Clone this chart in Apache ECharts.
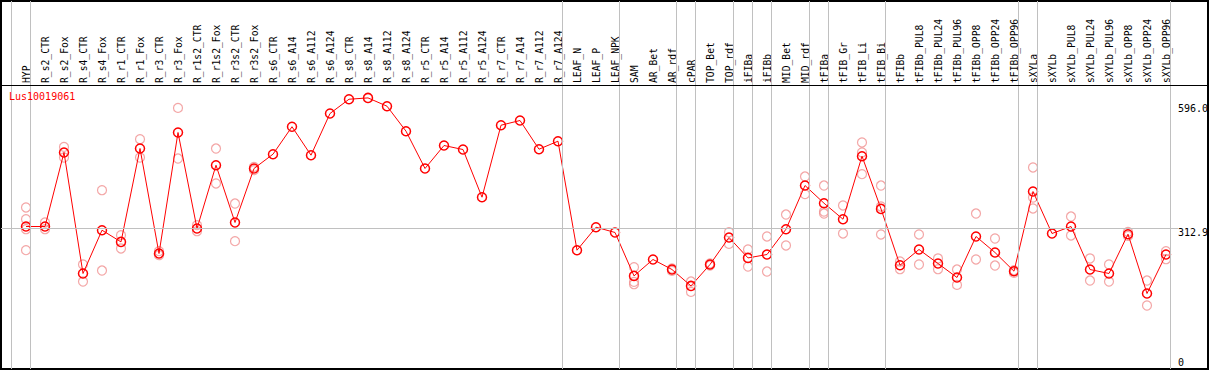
<!DOCTYPE html>
<html><head><meta charset="utf-8">
<script src="https://cdn.jsdelivr.net/npm/echarts@6/dist/echarts.min.js"></script>
<style>html,body{margin:0;padding:0;background:#fff}#c{width:1209px;height:370px}</style>
</head><body><div id="c"></div>
<script>
const geneId = 'Lus10019061';
const categories = ['HYP','R_s2_CTR','R_s2_Fox','R_s4_CTR','R_s4_Fox','R_r1_CTR','R_r1_Fox','R_r3_CTR','R_r3_Fox',
  'R_r1s2_CTR','R_r1s2_Fox','R_r3s2_CTR','R_r3s2_Fox','R_s6_CTR','R_s6_A14','R_s6_A112','R_s6_A124',
  'R_s8_CTR','R_s8_A14','R_s8_A112','R_s8_A124','R_r5_CTR','R_r5_A14','R_r5_A112','R_r5_A124',
  'R_r7_CTR','R_r7_A14','R_r7_A112','R_r7_A124','LEAF_N','LEAF_P','LEAF_NPK','SAM','AR_Bet','AR_rdf',
  'cPAR','TOP_Bet','TOP_rdf','iFIBa','iFIBb','MID_Bet','MID_rdf','tFIBa','tFIB_Gr','tFIB_Li','tFIB_Bi',
  'tFIBb','tFIBb_PUL8','tFIBb_PUL24','tFIBb_PUL96','tFIBb_OPP8','tFIBb_OPP24','tFIBb_OPP96',
  'sXYLa','sXYLb','sXYLb_PUL8','sXYLb_PUL24','sXYLb_PUL96','sXYLb_OPP8','sXYLb_OPP24','sXYLb_OPP96'];
const means = [317.5,317.5,487.2,209.8,309.0,282.2,496.3,255.6,533.0,312.9,458.0,326.7,450.5,483.3,546.3,
  481.0,576.6,609.3,612.3,593.3,536.0,450.5,503.2,494.0,384.7,549.7,560.5,494.7,513.1,263.2,315.9,303.8,
  204.3,241.9,218.9,181.3,230.4,292.3,245.5,253.3,311.3,411.5,370.9,334.2,478.7,357.9,228.8,264.8,232.7,
  200.6,294.6,257.9,215.0,397.7,301.5,317.5,218.9,209.8,299.9,163.9,253.3];
const replicates = [
  [361.1,334.2,311.3,263.2],[326.7,311.3],[500.0,475.7],[230.4,191.4],[400.7,216.6],[297.6,267.1],
  [517.6,475.7],[260.9,251.7],[589.4,473.4],[320.5,306.7],[496.3,416.1],[370.2,283.8],[454.2,446.6],
  [],[],[],[],[],[],[],[],[],[],[],[],[],[],[],[],
  [],[],[],
  [224.2,190.5,185.2],[],[221.2,215.7],[191.4,167.6],[232.7,228.1],[304.4,277.6],[264.8,225.8],
  [294.6,214.3],[345.0,274.0],[432.1,391.6],[411.5,351.9,347.3],[365.7,301.5],[510.1,487.2,437.4],
  [411.5,363.4,299.2],[237.3,219.6],[299.2,230.4],[244.2,219.6],[218.9,183.6],[347.3,241.9],
  [290.0,228.1],[217.3,211.1],[452.8,384.0,358.8],[],[340.4,296.9],[244.2,193.7],[230.4,191.4],
  [305.1,296.0],[193.7,136.4],[260.9,242.5]];
const groupEnds = ['HYP','R_r7_A124','LEAF_NPK','AR_rdf','cPAR','TOP_rdf','iFIBa','iFIBb','MID_rdf',
  'tFIBa','tFIB_Bi','tFIBb_OPP96','sXYLa','sXYLb_OPP96'];
const tickValues = [596.0, 312.9, 0];
const tickLabels = ['596.0', '312.9', '0'];
const gridValue = 312.9;

// ---- layout (pixels) ----
const PX_PER_UNIT = 0.4362, ZERO_Y = 365;
const STEP = 19, FIRST_X = 26, HEADER_Y = 85;
const FRAME = {l: 1, t: 1, r: 1208, b: 369};
const valAtY = y => (ZERO_Y - y) / PX_PER_UNIT;
const idxAtX = x => (x - FIRST_X) / STEP;
const FONT = 'DejaVu Sans Mono';

const scatterData = [];
replicates.forEach((r, i) => r.forEach(v => scatterData.push([i, v])));
const sepLines = [{xAxis: -1 + 4.5 / STEP}].concat(
  groupEnds.map(n => ({xAxis: categories.indexOf(n) + 4.5 / STEP})));

const chart = echarts.init(document.getElementById('c'), null, {renderer: 'svg'});
chart.setOption({
  animation: false,
  backgroundColor: '#fff',
  title: {text: geneId, left: 9, top: 91, padding: 0,
    textStyle: {color: '#ff0000', fontSize: 10, fontWeight: 'normal', fontFamily: FONT}},
  grid: [
    {left: FIRST_X - STEP / 2, width: STEP * categories.length, top: HEADER_Y, bottom: 370 - FRAME.b},
    {left: FRAME.l, right: 1209 - FRAME.r, top: FRAME.t, bottom: 370 - FRAME.b,
     show: true, borderColor: '#000', borderWidth: 2, backgroundColor: 'transparent'}
  ],
  xAxis: [
    {type: 'category', gridIndex: 0, data: categories, position: 'top', boundaryGap: true,
     axisLine: {show: false}, axisTick: {show: false}, splitLine: {show: false},
     axisLabel: {rotate: 90, interval: 0, margin: 2, color: '#000', fontSize: 9.7, fontFamily: FONT}},
    {type: 'value', gridIndex: 1, min: idxAtX(FRAME.l), max: idxAtX(FRAME.r), show: false}
  ],
  yAxis: [
    {type: 'value', gridIndex: 0, min: valAtY(FRAME.b), max: valAtY(HEADER_Y), show: false},
    {type: 'value', gridIndex: 1, min: valAtY(FRAME.b), max: valAtY(FRAME.t), show: false}
  ],
  series: [
    {type: 'scatter', xAxisIndex: 1, yAxisIndex: 1, data: [], silent: true, z: 1,
     markLine: {silent: true, symbol: ['none', 'none'], label: {show: false}, animation: false,
       lineStyle: {color: '#c0c0c0', width: 1, type: 'solid'},
       data: sepLines.concat([
         [{coord: [idxAtX(FRAME.l), gridValue]}, {coord: [idxAtX(1178), gridValue]}],
         {yAxis: valAtY(HEADER_Y + 0.5), lineStyle: {color: '#000', width: 1}}
       ])}},
    {type: 'scatter', xAxisIndex: 0, yAxisIndex: 0, data: scatterData, symbol: 'circle', symbolSize: 9,
     itemStyle: {color: 'rgba(0,0,0,0)', borderColor: '#f09090', borderWidth: 1.2}, z: 2},
    {type: 'line', xAxisIndex: 0, yAxisIndex: 0, data: means, symbol: 'circle', symbolSize: 9,
     lineStyle: {color: '#ff0000', width: 1},
     itemStyle: {color: 'rgba(0,0,0,0)', borderColor: '#ff0000', borderWidth: 1.5}, z: 3}
  ]
});
const labelEls = tickValues.map((v, k) => {
  const y = chart.convertToPixel({yAxisIndex: 1}, v);
  return {type: 'text', x: 1178, y: Math.min(y + 3.7, 362), silent: true,
    style: {text: tickLabels[k], fill: '#000', font: '10px "' + FONT + '"',
            textVerticalAlign: 'middle', verticalAlign: 'middle', textAlign: 'left', align: 'left'}};
});
chart.setOption({graphic: labelEls});
</script></body></html>
